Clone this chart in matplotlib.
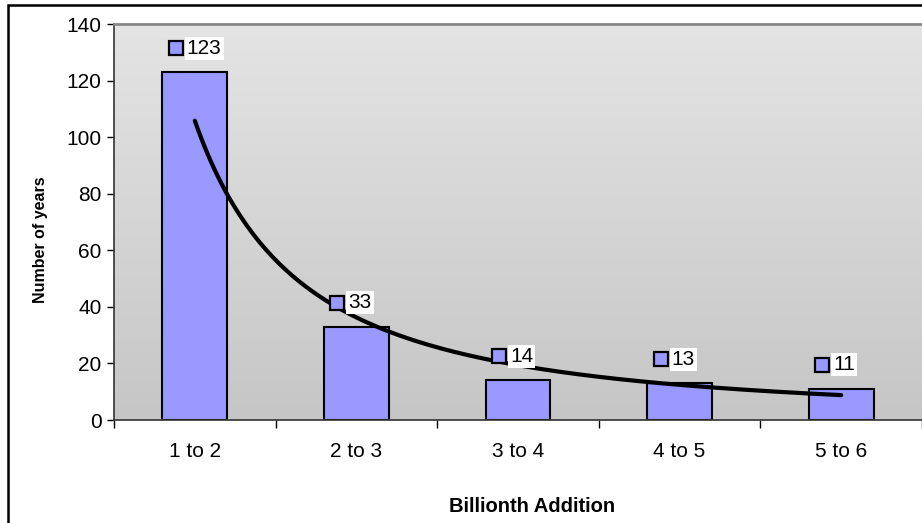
import numpy as np
import matplotlib.pyplot as plt
import matplotlib.transforms as mtransforms
from matplotlib.patches import Rectangle
from matplotlib.colors import LinearSegmentedColormap

plt.rcParams['font.family'] = ['Liberation Sans', 'DejaVu Sans']

# data
categories = ['1 to 2', '2 to 3', '3 to 4', '4 to 5', '5 to 6']
years = [123, 33, 14, 13, 11]

W, H = 922, 523
fig = plt.figure(figsize=(W / 100, H / 100), dpi=100)

# outer chart border (Excel chart area)
fig.patches.append(Rectangle((8 / W, -0.05), 1.1, (H - 5) / H + 0.05,
                             transform=fig.transFigure, fill=False,
                             edgecolor='black', linewidth=1.8))

left, right, top, bottom = 114, 922, 24, 420
ax = fig.add_axes([left / W, 1 - bottom / H, (right - left) / W, (bottom - top) / H])

x = np.arange(1, len(years) + 1)

# gradient background
grad = np.linspace(0, 1, 256).reshape(-1, 1)
ax.imshow(grad, extent=[0.5, 5.5, 0, 140], aspect='auto', origin='upper',
          cmap=LinearSegmentedColormap.from_list('g', ['#e4e4e4', '#c6c6c6']), zorder=0)

ax.bar(x, years, width=0.4, color='#9999ff', edgecolor='black', linewidth=1.5, zorder=2)

# power trendline
b, ln_a = np.polyfit(np.log(x), np.log(years), 1)
xs = np.linspace(1, 5, 200)
ax.plot(xs, np.exp(ln_a) * xs ** b, color='black', linewidth=3, zorder=3,
        solid_capstyle='round')

# data labels with legend key
for xi, v in zip(x, years):
    tsq = mtransforms.offset_copy(ax.transData, fig=fig, x=-19 * 0.72, y=24 * 0.72, units='points')
    ax.plot([xi], [v], marker='s', markersize=9.5, markerfacecolor='#9999ff',
            markeredgecolor='black', markeredgewidth=1.6, transform=tsq, zorder=4,
            clip_on=False)
    ax.annotate(str(v), (xi, v), xytext=(-8, 24), textcoords='offset pixels',
                ha='left', va='center', fontsize=15, zorder=5,
                bbox=dict(boxstyle='square,pad=0.1', facecolor='white', edgecolor='none'))

ax.set_xlim(0.5, 5.5)
ax.set_ylim(0, 140)
ax.set_yticks(range(0, 141, 20))
ax.set_xticks(np.arange(0.5, 5.6, 1), minor=False)
ax.set_xticklabels([])
ax.set_xticks(x, minor=True)
ax.set_xticklabels(categories, minor=True)
ax.tick_params(axis='x', which='minor', length=0, pad=16, labelsize=15)
ax.tick_params(axis='x', which='major', length=6, width=1, direction='out')
ax.tick_params(axis='y', length=5, width=1, labelsize=15, pad=4)

for s in ['left', 'bottom']:
    ax.spines[s].set_color('#333333')
    ax.spines[s].set_linewidth(1.2)
ax.spines['top'].set_color('#888888')
ax.spines['top'].set_linewidth(2)
ax.spines['right'].set_visible(False)

fig.text(532 / W, 1 - 507 / H, 'Billionth Addition', ha='center', va='center',
         fontsize=14.5, fontweight='bold')
fig.text(40 / W, 1 - 240 / H, 'Number of years', ha='center', va='center',
         fontsize=11.5, fontweight='bold', rotation=90)

fig.savefig('out.png', dpi=100)
